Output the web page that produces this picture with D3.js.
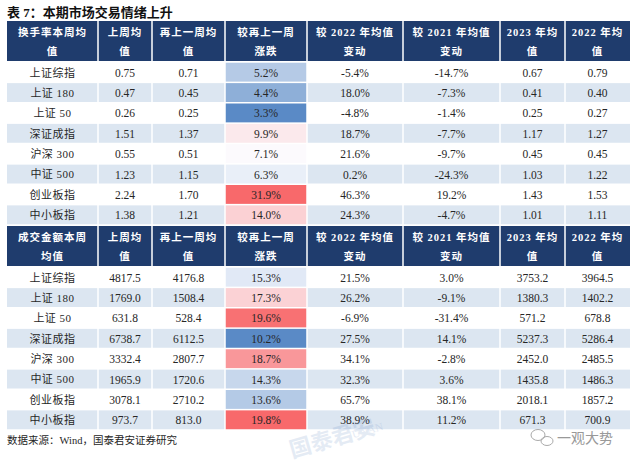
<!DOCTYPE html>
<html>
<head>
<meta charset="utf-8">
<script src="https://cdn.jsdelivr.net/npm/d3@7"></script>
<style>
  html, body { margin: 0; padding: 0; background: #fff; }
  svg text { font-family: "Liberation Serif", "Noto Sans CJK SC", serif; }
</style>
</head>
<body>
<div id="chart"></div>
<script>
// Two stacked heat-tables: turnover and traded value, weekly vs prior week / yearly averages.
const d3 = window.d3;

const indices = ["上证综指", "上证 180", "上证 50", "深证成指", "沪深 300", "中证 500", "创业板指", "中小板指"];

const headerTurnover = [["换手率本周均", "值"], ["上周均", "值"], ["再上一周均", "值"], ["较再上一周", "涨跌"],
  ["较 2022 年均值", "变动"], ["较 2021 年均值", "变动"], ["2023 年均", "值"], ["2022 年均", "值"]];
const headerAmount = [["成交金额本周", "均值"], ["上周均", "值"], ["再上一周均", "值"], ["较再上一周", "涨跌"],
  ["较 2022 年均值", "变动"], ["较 2021 年均值", "变动"], ["2023 年均", "值"], ["2022 年均", "值"]];

// turnover (%)
const toLastWeek = [0.75, 0.47, 0.26, 1.51, 0.55, 1.23, 2.24, 1.38];
const toPrevWeek = [0.71, 0.45, 0.25, 1.37, 0.51, 1.15, 1.70, 1.21];
const toWoW      = [5.2, 4.4, 3.3, 9.9, 7.1, 6.3, 31.9, 14.0];
const toVs2022   = [-5.4, 18.0, -4.8, 18.7, 21.6, 0.2, 46.3, 24.3];
const toVs2021   = [-14.7, -7.3, -1.4, -7.7, -9.7, -24.3, 19.2, -4.7];
const toAvg2023  = [0.67, 0.41, 0.25, 1.17, 0.45, 1.03, 1.43, 1.01];
const toAvg2022  = [0.79, 0.40, 0.27, 1.27, 0.45, 1.22, 1.53, 1.11];

// traded value (100m CNY)
const amLastWeek = [4817.5, 1769.0, 631.8, 6738.7, 3332.4, 1965.9, 3078.1, 973.7];
const amPrevWeek = [4176.8, 1508.4, 528.4, 6112.5, 2807.7, 1720.6, 2710.2, 813.0];
const amWoW      = [15.3, 17.3, 19.6, 10.2, 18.7, 14.3, 13.6, 19.8];
const amVs2022   = [21.5, 26.2, -6.9, 27.5, 34.1, 32.3, 65.7, 38.9];
const amVs2021   = [3.0, -9.1, -31.4, 14.1, -2.8, 3.6, 38.1, 11.2];
const amAvg2023  = [3753.2, 1380.3, 571.2, 5237.3, 2452.0, 1435.8, 2018.1, 671.3];
const amAvg2022  = [3964.5, 1402.2, 678.8, 5286.4, 2485.5, 1486.3, 1857.2, 700.9];

const W = 640, H = 465;
const colEdges = [7, 98, 152, 225, 307, 403, 500, 565, 630];
const NAVY = "#1f3c6d", STRIPE = "#dce6f1", INK = "#262626";
const gap = 1.5;

const svg = d3.select("#chart").append("svg").attr("width", W).attr("height", H);

svg.append("text").attr("x", 7).attr("y", 12).attr("dy", "0.35em")
  .attr("font-size", 13).attr("font-weight", "bold").attr("fill", "#111")
  .text("表 7：本期市场交易情绪上升");

// plain hyphen for negatives, like the source sheet
const f2 = v => v.toFixed(2), f1 = v => v.toFixed(1), pct = v => v.toFixed(1) + "%";

function drawTable(top, header, cols, heatCol) {
  const g = svg.append("g");
  const headH = 41;
  const y = d3.scaleBand().domain(d3.range(indices.length)).range([top + headH, top + headH + 163]).padding(0);

  // header cells
  const hc = g.selectAll(".hc").data(header).join("g");
  hc.append("rect")
    .attr("x", (d, i) => colEdges[i] + (i ? gap / 2 : 0))
    .attr("y", top)
    .attr("width", (d, i) => colEdges[i + 1] - colEdges[i] - (i ? gap / 2 : 0) - (i < 7 ? gap / 2 : 0))
    .attr("height", headH - 1)
    .attr("fill", NAVY);
  hc.each(function (d, i) {
    const cx = (colEdges[i] + colEdges[i + 1]) / 2;
    d.forEach((line, k) => {
      d3.select(this).append("text").attr("x", cx).attr("y", top + 11 + k * 19).attr("dy", "0.35em")
        .attr("text-anchor", "middle").attr("font-size", 10.5).attr("font-weight", "bold")
        .attr("letter-spacing", 1).attr("fill", "#fff").text(line);
    });
  });

  const heat = d3.scaleLinear()
    .domain([d3.min(heatCol), d3.median(heatCol), d3.max(heatCol)])
    .range(["#5a8ac6", "#fcfcff", "#f8696b"]);

  const rows = g.selectAll(".row").data(indices).join("g");
  rows.each(function (name, r) {
    const row = d3.select(this);
    const y0 = y(r), bh = y.bandwidth();
    const cells = [name].concat(cols.map(c => c.fmt(c.vals[r])));
    cells.forEach((txt, i) => {
      const x0 = colEdges[i] + (i ? gap / 2 : 0);
      const x1 = colEdges[i + 1] - (i < 7 ? gap / 2 : 0);
      let fill = r % 2 ? STRIPE : "#fff";
      if (i === 3) fill = heat(heatCol[r]);
      row.append("rect").attr("x", x0).attr("y", y0 + gap / 2).attr("width", x1 - x0)
        .attr("height", bh - gap).attr("fill", fill);
      row.append("text").attr("x", (colEdges[i] + colEdges[i + 1]) / 2).attr("y", y0 + bh / 2 + 0.5)
        .attr("dy", "0.35em").attr("text-anchor", "middle")
        .attr("font-size", i === 0 ? 11 : 11.5).attr("letter-spacing", i === 0 ? 0.5 : 0)
        .attr("fill", INK).text(txt);
    });
  });
}

drawTable(21, headerTurnover, [
  { vals: toLastWeek, fmt: f2 }, { vals: toPrevWeek, fmt: f2 }, { vals: toWoW, fmt: pct },
  { vals: toVs2022, fmt: pct }, { vals: toVs2021, fmt: pct }, { vals: toAvg2023, fmt: f2 }, { vals: toAvg2022, fmt: f2 }
], toWoW);

drawTable(226, headerAmount, [
  { vals: amLastWeek, fmt: f1 }, { vals: amPrevWeek, fmt: f1 }, { vals: amWoW, fmt: pct },
  { vals: amVs2022, fmt: pct }, { vals: amVs2021, fmt: pct }, { vals: amAvg2023, fmt: f1 }, { vals: amAvg2022, fmt: f1 }
], amWoW);

svg.append("text").attr("x", 7).attr("y", 440).attr("dy", "0.35em")
  .attr("font-size", 10.5).attr("fill", INK).text("数据来源：Wind，国泰君安证券研究");

// faint watermark + account badge
const wm = svg.append("g").attr("transform", "translate(292,458) rotate(-16)").attr("opacity", 0.14);
wm.append("text").attr("font-size", 22).attr("font-weight", "bold").attr("fill", "#4a76b8").text("国泰君安");
wm.append("text").attr("x", 60).attr("y", -2).attr("font-size", 11).attr("fill", "#4a76b8")
  .attr("font-family", "Liberation Sans").text("JUNAN");

const badge = svg.append("g").attr("fill", "none").attr("stroke", "#aaa").attr("stroke-width", 1);
badge.append("ellipse").attr("cx", 538).attr("cy", 435).attr("rx", 7).attr("ry", 5.5);
badge.append("ellipse").attr("cx", 547).attr("cy", 441).attr("rx", 6).attr("ry", 4.5);
svg.append("text").attr("x", 557).attr("y", 438).attr("dy", "0.35em").attr("font-size", 14)
  .attr("fill", "#999").attr("font-family", "Noto Sans CJK SC").text("一观大势");
</script>
</body>
</html>
